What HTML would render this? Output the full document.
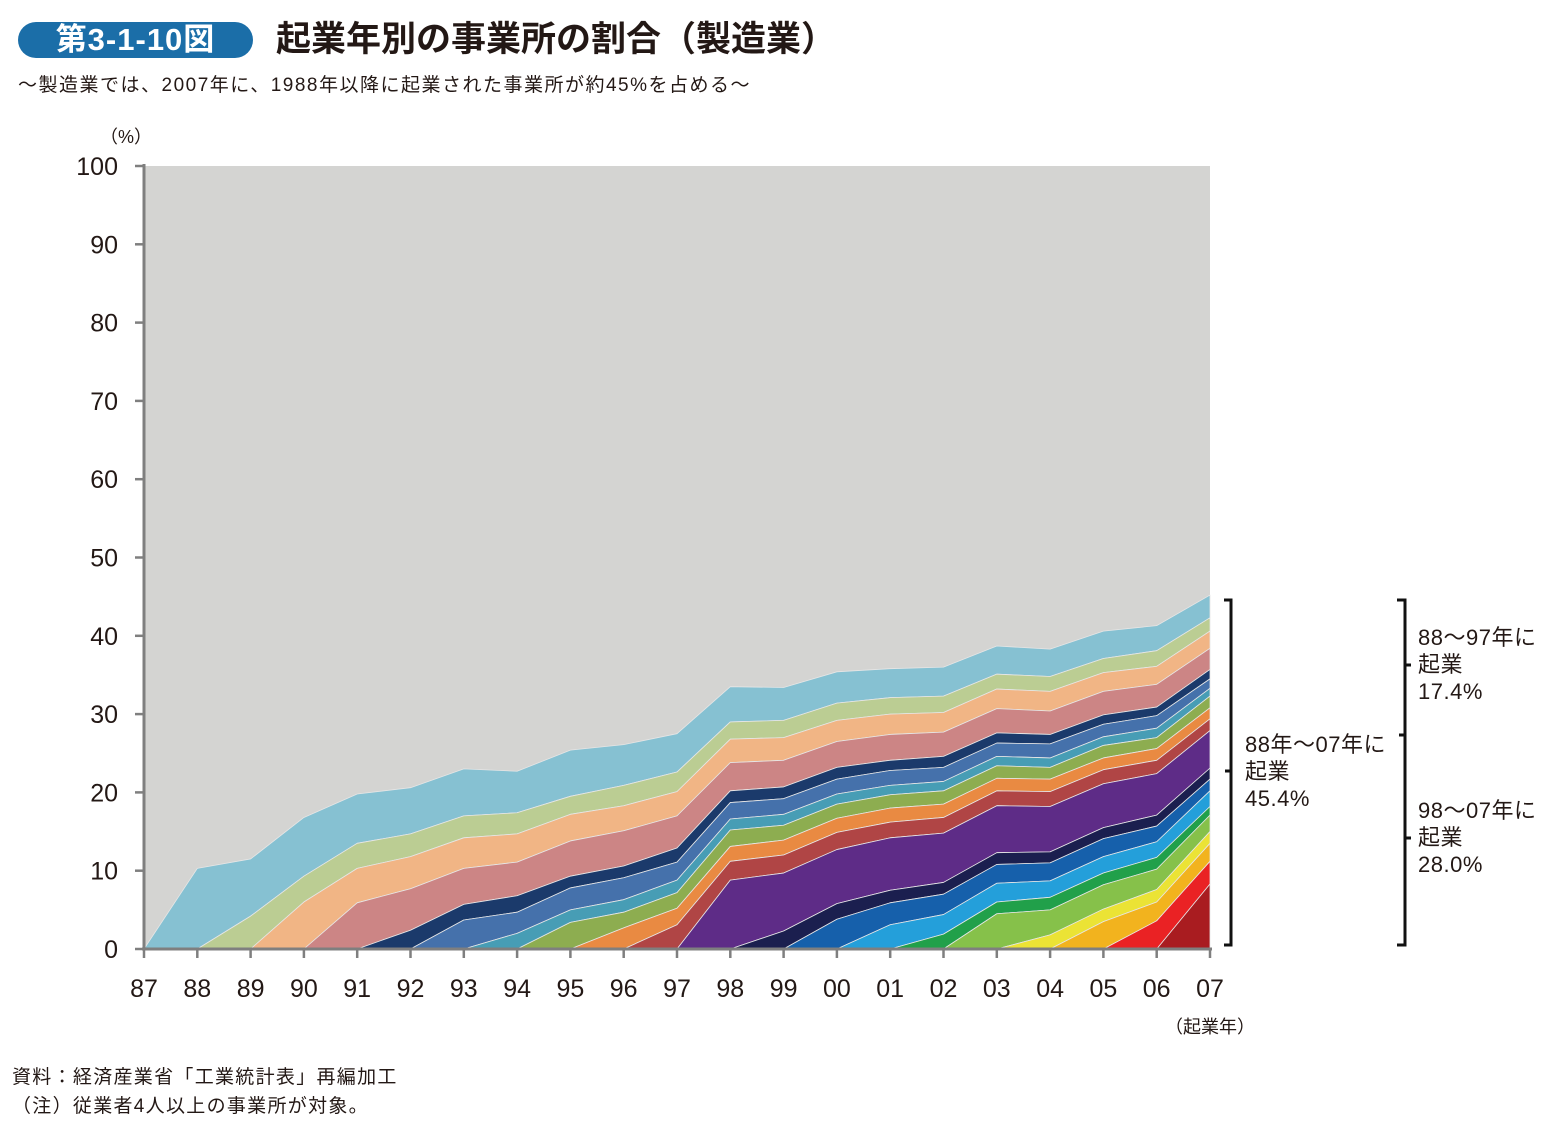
<!DOCTYPE html>
<html><head><meta charset="utf-8">
<style>
body{margin:0;background:#fff;width:1556px;height:1122px;overflow:hidden;font-family:"Liberation Sans","Noto Sans CJK JP",sans-serif;color:#231815}
.abs{position:absolute;white-space:nowrap}
</style></head>
<body>
<div class="abs" style="left:18px;top:22px;width:235px;height:36px;background:#1b6ea8;border-radius:18px;color:#fff;font-weight:bold;font-size:31px;line-height:36px;text-align:center;letter-spacing:1px">第3-1-10図</div>
<div class="abs" style="left:276px;top:18px;font-size:35px;font-weight:bold;line-height:44px">起業年別の事業所の割合（製造業）</div>
<div class="abs" style="left:18px;top:73px;font-size:19px;line-height:26px;letter-spacing:1.5px">～製造業では、2007年に、1988年以降に起業された事業所が約45%を占める～</div>
<div class="abs" style="left:12px;top:1065px;font-size:19px;line-height:26px;letter-spacing:1.3px">資料：経済産業省「工業統計表」再編加工</div>
<div class="abs" style="left:12px;top:1094px;font-size:19px;line-height:26px;letter-spacing:1.3px">（注）従業者4人以上の事業所が対象。</div>
<svg id="chart" width="1556" height="1122" style="position:absolute;left:0;top:0"></svg>
<script>
const years=["87","88","89","90","91","92","93","94","95","96","97","98","99","00","01","02","03","04","05","06","07"];
const yTicks=[0,10,20,30,40,50,60,70,80,90,100];
const cohortLabels=["88","89","90","91","92","93","94","95","96","97","98","99","00","01","02","03","04","05","06","07"];
const c88=[10.3,7.3,7.5,6.3,5.9,6.0,5.3,5.9,5.2,4.9,4.5,4.2,4.0,3.7,3.7,3.6,3.5,3.5,3.2,2.9];
const c89=[4.2,3.3,3.2,2.9,2.8,2.7,2.3,2.6,2.5,2.2,2.2,2.2,2.1,2.1,1.9,1.9,1.8,2.0,1.7];
const c90=[6.0,4.4,4.1,3.9,3.6,3.4,3.2,3.1,3.0,2.9,2.7,2.6,2.5,2.5,2.5,2.4,2.3,2.2];
const c91=[5.9,5.3,4.6,4.3,4.5,4.5,4.1,3.6,3.4,3.3,3.3,3.1,3.1,3.0,3.0,2.9,2.7];
const c92=[2.4,2.0,2.1,1.5,1.5,1.8,1.5,1.5,1.5,1.3,1.4,1.3,1.2,1.2,1.1,1.2];
const c93=[3.7,2.7,2.8,2.8,2.3,2.1,2.0,1.9,1.9,1.8,1.7,1.8,1.6,1.6,1.2];
const c94=[2.0,1.6,1.6,1.6,1.4,1.4,1.3,1.2,1.2,1.2,1.2,1.1,1.2,1.0];
const c95=[3.4,2.0,2.0,2.1,1.9,1.8,1.7,1.7,1.6,1.5,1.6,1.4,1.5];
const c96=[2.7,2.1,1.9,1.9,1.8,1.8,1.7,1.6,1.6,1.5,1.5,1.4];
const c97=[3.1,2.4,2.3,2.2,2.0,2.0,1.9,1.9,1.8,1.7,1.5];
const c98=[8.8,7.4,6.9,6.7,6.3,6.0,5.8,5.6,5.3,4.8];
const c99=[2.3,2.0,1.6,1.5,1.5,1.4,1.4,1.4,1.4];
const c00=[3.8,2.8,2.6,2.4,2.3,2.3,2.0,1.5];
const c01=[3.1,2.5,2.4,2.1,2.1,2.0,2.0];
const c02=[1.9,1.5,1.6,1.5,1.5,1.1];
const c03=[4.5,3.2,3.1,2.6,2.1];
const c04=[1.8,1.6,1.6,1.5];
const c05=[3.5,2.4,2.3];
const c06=[3.6,2.9];
const c07=[8.3];
const cohorts=[c88,c89,c90,c91,c92,c93,c94,c95,c96,c97,c98,c99,c00,c01,c02,c03,c04,c05,c06,c07];
const colors=["#86c1d2","#bbcd93","#f1b585","#cc8585","#1b3a6b","#4571ab","#479db5","#8dad50","#e98a42","#b04545","#5e2c87","#1b1f4f","#1660ab","#249fda","#21a04a","#86c14a","#ebe335","#f2b31e","#ea2224","#a91c20"];

const X0=144,X1=1210,Y0=949,Y1=166;
const xs=i=>X0+(X1-X0)*i/(years.length-1);
const ys=v=>Y0-(Y0-Y1)*v/100;
const svg=document.getElementById('chart');
const NS="http://www.w3.org/2000/svg";
function mk(t,a){const e=document.createElementNS(NS,t);for(const k in a)e.setAttribute(k,a[k]);svg.appendChild(e);return e;}

const bg=mk('rect',{x:X0,y:Y1,width:X1-X0,height:Y0-Y1,fill:'#d4d4d2'});



const N=years.length;
const full=cohorts.map((arr,k)=>{const a=new Array(N).fill(0);for(let j=0;j<arr.length;j++)a[k+1+j]=arr[j];return a;});
const base=new Array(N).fill(0);
const tops=[];
for(let k=cohorts.length-1;k>=0;k--){
  const lo=base.slice();
  for(let i=0;i<N;i++)base[i]+=full[k][i];
  tops[k]={lo:lo,hi:base.slice()};
}
for(let k=0;k<cohorts.length;k++){
  const s=k;
  let pts=[];
  for(let i=s;i<N;i++)pts.push(xs(i)+','+ys(tops[k].hi[i]));
  for(let i=N-1;i>=s;i--)pts.push(xs(i)+','+ys(tops[k].lo[i]));
  const p=mk('polygon',{points:pts.join(' '),fill:colors[k],stroke:'#e6e6e6','stroke-width':0.8,'stroke-linejoin':'round'});
  
  
}
const ax=mk('line',{x1:X0,y1:Y1-2,x2:X0,y2:Y0+1,stroke:'#7f7f7f','stroke-width':3});


const bx=mk('line',{x1:X0-2,y1:Y0,x2:X1+2,y2:Y0,stroke:'#7f7f7f','stroke-width':3});


yTicks.forEach(v=>{
  mk('line',{x1:X0-9,y1:ys(v),x2:X0,y2:ys(v),stroke:'#7f7f7f','stroke-width':2.5});
  const t=mk('text',{x:118,y:ys(v)+9,'text-anchor':'end','font-size':25,fill:'#231815'});
  t.textContent=v;
  
  
});
years.forEach((y,i)=>{
  mk('line',{x1:xs(i),y1:Y0,x2:xs(i),y2:Y0+9,stroke:'#7f7f7f','stroke-width':2.5});
  const t=mk('text',{x:xs(i),y:997,'text-anchor':'middle','font-size':25,fill:'#231815'});
  t.textContent=y;
  
  
});
const yu=mk('text',{x:126,y:143,'text-anchor':'middle','font-size':18,fill:'#231815'});
yu.textContent='（%）';


const xu=mk('text',{x:1210,y:1033,'text-anchor':'middle','font-size':18,fill:'#231815'});
xu.textContent='（起業年）';



const b1=mk('path',{d:'M1224,600 H1231 V945 H1224 M1231,771 H1225',fill:'none',stroke:'#111','stroke-width':3});


const b2=mk('path',{d:'M1397,600 H1405 V945 H1397 M1399,735 H1405 M1405,665 H1411 M1405,838 H1411',fill:'none',stroke:'#111','stroke-width':3});


function label(lines,x,y,name){
  lines.forEach((s,i)=>{const t=mk('text',{x:x,y:y+i*27,'font-size':22,fill:'#231815','letter-spacing':'0.5'});t.textContent=s;
  
  });
}
label(['88年～07年に','起業','45.4%'],1245,752,'annotation-88-07');
label(['88～97年に','起業','17.4%'],1418,645,'annotation-88-97');
label(['98～07年に','起業','28.0%'],1418,818,'annotation-98-07');
</script>
</body></html>
